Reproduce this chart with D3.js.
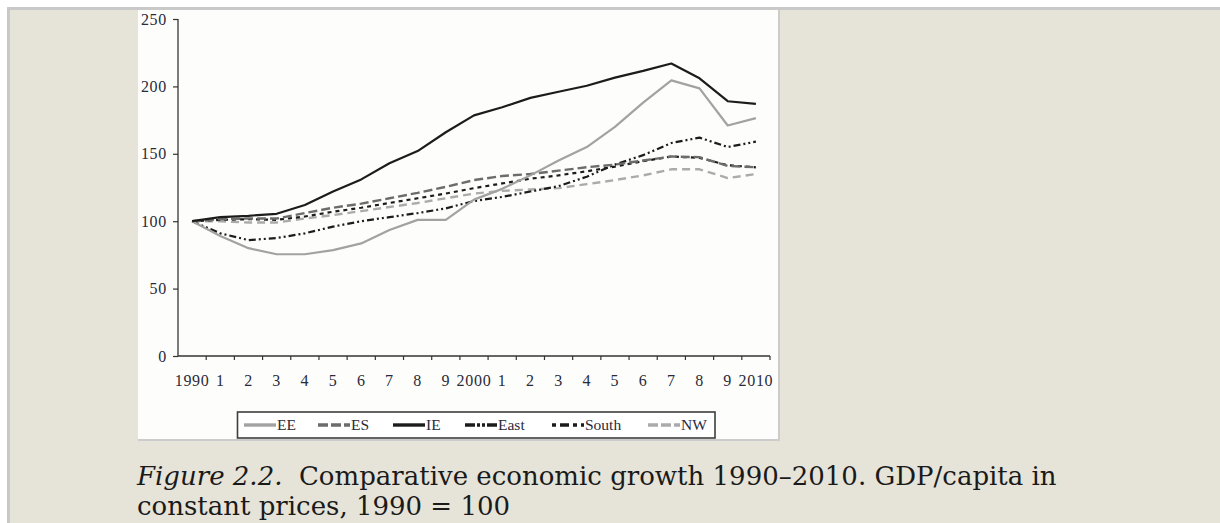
<!DOCTYPE html>
<html><head><meta charset="utf-8">
<script src="https://cdn.jsdelivr.net/npm/d3@7/dist/d3.min.js"></script>
<style>
html,body{margin:0;padding:0;background:#fff;}
svg{display:block;}
</style></head>
<body>
<svg id="c" width="1220" height="523"></svg>
<script>
const years = d3.range(1990, 2011);
const tickLabels = ["1990","1","2","3","4","5","6","7","8","9","2000","1","2","3","4","5","6","7","8","9","2010"];
const yTicks = [0,50,100,150,200,250];

const EE    = [100, 89, 80, 75.5, 75.5, 78.5, 83.5, 93.5, 101, 101, 116, 124, 134, 145, 155, 170, 188, 204.5, 198.5, 171, 176.5];
const ES    = [100, 101.5, 102, 102, 106, 110, 113, 117, 121, 125.5, 130.5, 133.5, 135, 137.5, 140, 142, 145, 148, 147.5, 141, 140];
const IE    = [100, 103, 104, 105.5, 112, 122, 131, 143, 152, 166, 178.5, 184.5, 191.5, 196, 200.5, 206.5, 211.5, 217, 206, 189, 187];
const East  = [100, 91, 86, 87.5, 91, 96, 100, 103, 106, 109.5, 115, 118, 122, 126, 133, 142, 149, 158, 162, 155, 159];
const South = [100, 101, 101.5, 101, 103.5, 107, 110, 113.5, 117, 120.5, 124.5, 128, 131.5, 134, 137, 140.5, 144.5, 148, 147, 141.5, 140];
const NW    = [100, 100, 99, 99, 102, 104.5, 107.5, 110.5, 113.5, 117, 120.5, 122.5, 123.5, 124.5, 127.5, 130.5, 134, 138.5, 138.5, 132, 135];

const seriesNames = ["EE","ES","IE","East","South","NW"];
const seriesValues = [EE, ES, IE, East, South, NW];
const seriesStyle = {
  EE:    {color:"#a2a2a2", dash:null,            w:2.2},
  ES:    {color:"#6c6c6c", dash:"9,4",           w:2.4},
  IE:    {color:"#1c1c1c", dash:null,            w:2.2},
  East:  {color:"#1c1c1c", dash:"7,3,2,3,2,3",   w:2.2},
  South: {color:"#1c1c1c", dash:"4,4",           w:2.2},
  NW:    {color:"#ababab", dash:"8,5",           w:2.4}
};

const svg = d3.select("#c");
// page background & borders
svg.append("rect").attr("x",0).attr("y",0).attr("width",1220).attr("height",523).attr("fill","#ffffff");
svg.append("rect").attr("x",7).attr("y",7).attr("width",1213).attr("height",516).attr("fill","#c9c9c9");
svg.append("rect").attr("x",10).attr("y",10).attr("width",1210).attr("height",513).attr("fill","#e6e3d8");
// chart panel
svg.append("rect").attr("x",138).attr("y",10).attr("width",642).attr("height",431).attr("fill","#cccccc");
svg.append("rect").attr("x",138).attr("y",10).attr("width",640).attr("height",429).attr("fill","#fdfefb");

const x = d3.scaleBand().domain(years).range([178, 770]).padding(0);
const y = d3.scaleLinear().domain([0, 250]).range([356, 19]);

const axisColor = "#333";
const fontAxis = "'Liberation Serif', 'Times New Roman', serif";

// y axis
const ya = svg.append("g").attr("transform","translate(178,0)")
  .call(d3.axisLeft(y).tickValues(yTicks).tickSize(5).tickPadding(6));
ya.select(".domain").attr("stroke",axisColor).attr("stroke-width",1.3).attr("d","M0,"+y(250)+"V"+y(0));
ya.selectAll(".tick line").attr("stroke",axisColor).attr("stroke-width",1.2);
ya.selectAll(".tick text").attr("font-family",fontAxis).attr("font-size",16).attr("fill","#2a2a3a")
  .style("letter-spacing","0.7px");

// x axis (labels centred on bands)
const xa = svg.append("g").attr("transform","translate(0,"+y(0)+")")
  .call(d3.axisBottom(x).tickSize(0).tickPadding(19).tickFormat((d,i)=>tickLabels[i]));
xa.select(".domain").attr("stroke",axisColor).attr("stroke-width",1.3).attr("d","M178,0H770");
xa.selectAll(".tick text").attr("font-family",fontAxis).attr("font-size",16).attr("fill","#2a2a3a")
  .style("letter-spacing","0.7px");
// tick marks at band boundaries
const bounds = years.map(d => x(d)).concat([x.range()[1]]);
xa.selectAll(".bt").data(bounds.slice(1)).enter().append("line")
  .attr("x1",d=>d).attr("x2",d=>d).attr("y1",0).attr("y2",4)
  .attr("stroke",axisColor).attr("stroke-width",1.2);

// lines
const line = d3.line().x((d,i)=>x(years[i]) + x.bandwidth()/2).y(d=>y(d));
const drawOrder = ["NW","South","East","ES","EE","IE"];
drawOrder.forEach(name=>{
  const vals = seriesValues[seriesNames.indexOf(name)];
  const st = seriesStyle[name];
  svg.append("path").datum(vals).attr("d",line)
    .attr("fill","none").attr("stroke",st.color).attr("stroke-width",st.w)
    .attr("stroke-dasharray",st.dash).attr("stroke-linejoin","round");
});

// legend
const lg = svg.append("g");
lg.append("rect").attr("x",237.5).attr("y",412).attr("width",477.5).attr("height",26)
  .attr("fill","#ffffff").attr("stroke","#3e3e3e").attr("stroke-width",1.6);
const legendX = [244, 318, 393, 465, 552, 648];
seriesNames.forEach((name,i)=>{
  const st = seriesStyle[name];
  const lx = legendX[i];
  lg.append("line").attr("x1",lx).attr("x2",lx+32).attr("y1",425).attr("y2",425)
    .attr("stroke",st.color).attr("stroke-width",3.4)
    .attr("stroke-dasharray", name==="East" ? "10,2,3,2,3,2" : name==="South" ? "4,4,9,4" : name==="ES"||name==="NW" ? "10,3" : null);
  lg.append("text").attr("x",lx+33).attr("y",430).text(name)
    .attr("font-family",fontAxis).attr("font-size",15.5).attr("fill","#2a2a3a");
});

// caption
const cap = svg.append("text").attr("font-family","'DejaVu Serif', serif").attr("font-size",26).attr("fill","#1a1a1a");
const l1 = cap.append("tspan").attr("x",137).attr("y",485);
l1.append("tspan").attr("font-style","italic").text("Figure 2.2.");
l1.append("tspan").text("\u00a0 Comparative economic growth 1990–2010. GDP/capita in");
cap.append("tspan").attr("x",137).attr("y",515).text("constant prices, 1990 = 100");
</script>
</body></html>
